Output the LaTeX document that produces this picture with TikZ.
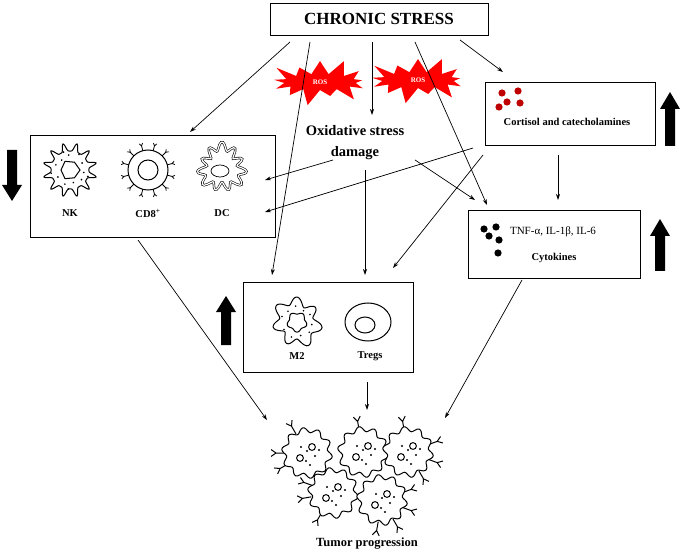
\documentclass[tikz,border=0pt]{standalone}
\usepackage{fontspec}
\setmainfont{Liberation Serif}
\usetikzlibrary{shapes.symbols,arrows.meta}
\begin{document}
\begin{tikzpicture}[x=1pt,y=-1pt,
  box/.style={draw,line width=0.8pt,inner sep=0pt},
  conn/.style={-{Stealth[length=6pt,width=4pt]},line width=0.7pt},
  lbl/.style={font=\bfseries\fontsize{10.5}{12}\selectfont},
  ros/.style={starburst,fill=red,draw=none,minimum width=108pt,minimum height=52pt,starburst points=13,starburst point height=18pt,text=white,font=\fontsize{7}{8}\selectfont\bfseries},
  cellline/.style={line width=1pt},
  pics/nkcell/.style={code={
    \draw[cellline] plot[smooth cycle,domain=0:357,samples=120] (\x:{19+8*(abs(sin(6*\x)))^6});
    \draw[cellline] (0:10)--(60:9)--(120:10)--(180:9)--(240:10)--(300:9)--cycle;
    \foreach \a/\r in {10/14,40/15,75/13,110/15,150/14,200/15,230/13,265/15,330/14,20/19,95/19,170/19,250/19,300/18}
      \fill (\a:\r) circle (0.9);
  }},
  pics/cdcell/.style={code={
    \draw[cellline] (0,0) circle (20);
    \draw[cellline] (0,0) circle (10);
    \foreach \a in {15,45,75,105,135,165,195,225,255,285,315,345}{
      \draw[line width=0.8pt] (\a:20)--(\a:25) (\a:25)--++(\a+35:3) (\a:25)--++(\a-35:3);}
  }},
  pics/dccell/.style={code={
    \draw[line width=0.6pt,double=white,double distance=1.2pt] plot[smooth cycle,domain=0:356,samples=90] (\x:{20+4*sin(11*\x)+2*sin(3*\x)});
    \draw[line width=0.7pt] (-2,3) ellipse (9 and 6);
  }},
  pics/mtwo/.style={code={
    \draw[cellline] plot[smooth cycle,domain=0:356,samples=90] (\x:{21+4*sin(7*\x)+1.5*sin(2*\x)});
    \draw[cellline] plot[smooth cycle,domain=0:350,samples=36] (\x:{9+1.2*sin(5*\x)});
    \foreach \a/\r in {10/15,40/16,75/14,110/16,150/15,200/16,230/14,265/16,330/15,300/13}
      \fill (\a:\r) circle (0.9);
  }},
  pics/treg/.style={code={
    \draw[cellline] (0,0) ellipse (23 and 19);
    \draw[cellline] (-3,3) ellipse (10 and 8);
  }},
  pics/tumorcell/.style={code={
    \foreach \a in {#1}{
      \draw[cellline] (\a:22)--(\a:31) (\a:31)--++(\a+35:6) (\a:31)--++(\a-35:6);}
    \draw[cellline,fill=white] plot[smooth cycle,domain=0:356,samples=90] (\x:{23+2.5*sin(10*\x)});
    \draw[cellline] (5,-6) circle (3.4) (-7,5) circle (3.4);
    \foreach \p in {(-6,-6),(0,-2),(8,3),(-1,8),(3,12),(12,-3)} \fill \p circle (1.1);
  }}
]
\useasboundingbox (0,0) rectangle (685,553);

% boxes
\node[box,minimum width=218pt,minimum height=32pt,font=\bfseries\fontsize{17}{19}\selectfont] (cs) at (379,19) {CHRONIC STRESS};
\node[ros] (ros1) at (320,82) {ROS};
\node[ros] (ros2) at (418,80) {ROS};
\node[align=center,font=\bfseries\fontsize{14.5}{21}\selectfont] (ox) at (355,143) {Oxidative stress\\damage};
\node[box,minimum width=245pt,minimum height=102pt] (nk) at (152.5,186) {};
\node[box,minimum width=170pt,minimum height=63pt] (cort) at (570,113.5) {};
\node[box,minimum width=172pt,minimum height=68pt] (cyto) at (554,244) {};
\node[box,minimum width=170pt,minimum height=90pt] (mbox) at (328,327) {};

% cells in NK box
\pic at (70,170) {nkcell};
\pic at (148,170) {cdcell};
\pic at (222,168) {dccell};
\node[lbl] (nkl) at (70,213) {NK};
\node[lbl] (cdl) at (148,213) {CD8\textsuperscript{+}};
\node[lbl] (dcl) at (222,213) {DC};

% cortisol
\foreach \p in {(502,93),(518,91),(499,107),(507,102),(520,103)} \fill[red!75!black] \p circle (3.6);
\node[lbl] (cortl) at (567,122) {Cortisol and catecholamines};

% cytokines
\foreach \p in {(484,229),(496,227),(489,236),(499,240),(498,253)} \fill \p circle (3.6);
\node[font=\fontsize{11}{12}\selectfont] (tnf) at (553,232) {TNF-α, IL-1β, IL-6};
\node[lbl] (cytl) at (554,258) {Cytokines};

% M2 box
\pic at (297,322) {mtwo};
\pic at (368,322) {treg};
\node[lbl] (m2l) at (297,356) {M2};
\node[lbl] (tregl) at (370,356) {Tregs};

% tumor
\pic at (307,453) {tumorcell={-120,180,150}};
\pic at (363,452) {tumorcell={-100}};
\pic at (408,452) {tumorcell={-100,-20,20,60}};
\pic at (333,493) {tumorcell={170,120,-160}};
\pic at (382,500) {tumorcell={60,100,20,-20}};
\node[font=\bfseries\fontsize{12.5}{14}\selectfont] (tp) at (367,544) {Tumor progression};

% thick arrows
\fill (7,150) rectangle (17,185) (2,185)--(22,185)--(12,201)--cycle;
\fill (221,345) rectangle (231,312) (216,312)--(236,312)--(226,296)--cycle;
\fill (665,146) rectangle (675,109) (660,109)--(680,109)--(670,92)--cycle;
\fill (655,271) rectangle (665,236) (650,236)--(670,236)--(660,219)--cycle;

% connector end points
\coordinate (c1s) at (290,42); \coordinate (c1e) at (190,132);
\coordinate (c2s) at (310,42); \coordinate (c2e) at (272,275);
\coordinate (c3s) at (372,42); \coordinate (c3e) at (372,115);
\coordinate (c4s) at (415,42); \coordinate (c4e) at (487,205);
\coordinate (c5s) at (460,40); \coordinate (c5e) at (503,72);
\coordinate (c6s) at (333,160); \coordinate (c6e) at (265,180);
\coordinate (c7s) at (473,148); \coordinate (c7e) at (265,212);
\coordinate (c8s) at (365,170); \coordinate (c8e) at (365,275);
\coordinate (c9s) at (415,160); \coordinate (c9e) at (475,200);
\coordinate (c10s) at (483,155); \coordinate (c10e) at (393,268);
\coordinate (c11s) at (558,155); \coordinate (c11e) at (558,200);
\coordinate (c12s) at (138,240); \coordinate (c12e) at (267,420);
\coordinate (c13s) at (367,382); \coordinate (c13e) at (367,410);
\coordinate (c14s) at (522,280); \coordinate (c14e) at (445,418);
\foreach \i in {1,...,14} \draw[conn] (c\i s) -- (c\i e);
\end{tikzpicture}
\end{document}
